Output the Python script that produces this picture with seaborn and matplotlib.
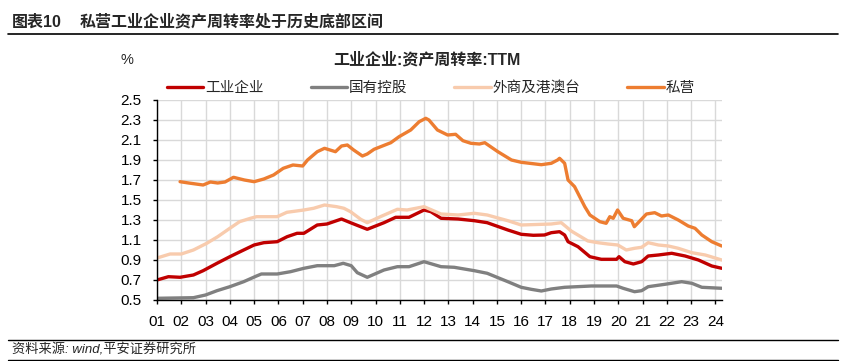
import numpy as np
import pandas as pd
import matplotlib
matplotlib.use('Agg')
import matplotlib.pyplot as plt
import seaborn as sns

# readings taken off the reference chart (year, value)
industry_t = [2001.0, 2001.47, 2001.95, 2002.5, 2002.9, 2003.47, 2004.0, 2004.57, 2005.0, 2005.4,
              2005.95, 2006.36, 2006.77, 2007.05, 2007.6, 2008.0, 2008.6, 2008.97, 2009.66, 2010.35,
              2010.83, 2011.38, 2012.0, 2012.28, 2012.7, 2013.4, 2014.07, 2014.6, 2015.45, 2016.0,
              2016.5, 2016.96, 2017.24, 2017.58, 2017.79, 2017.93, 2018.34, 2018.83, 2019.3, 2019.93,
              2020.03, 2020.27, 2020.62, 2020.96, 2021.23, 2021.65, 2022.2, 2022.75, 2023.3, 2023.85,
              2024.26]
industry_v = [0.70, 0.733, 0.727, 0.75, 0.793, 0.867, 0.933, 1.0, 1.05, 1.073,
              1.083, 1.133, 1.167, 1.167, 1.25, 1.26, 1.31, 1.273, 1.207, 1.273,
              1.327, 1.327, 1.40, 1.383, 1.317, 1.31, 1.293, 1.273, 1.20, 1.157,
              1.147, 1.15, 1.173, 1.183, 1.15, 1.083, 1.033, 0.933, 0.907, 0.907,
              0.933, 0.883, 0.86, 0.883, 0.94, 0.95, 0.967, 0.94, 0.90, 0.84,
              0.817]

soe_t = [2001.0, 2002.5, 2003.0, 2003.47, 2004.0, 2004.57, 2005.1, 2005.3, 2005.95, 2006.5,
         2007.05, 2007.6, 2008.3, 2008.67, 2009.0, 2009.25, 2009.66, 2010.35, 2010.9, 2011.38,
         2012.0, 2012.7, 2013.24, 2014.07, 2014.6, 2015.45, 2016.0, 2016.41, 2016.83, 2017.24,
         2017.79, 2018.89, 2019.93, 2020.2, 2020.67, 2020.96, 2021.23, 2021.92, 2022.61, 2023.03,
         2023.44, 2024.26]
soe_v = [0.517, 0.523, 0.55, 0.593, 0.633, 0.683, 0.74, 0.76, 0.76, 0.783,
         0.817, 0.843, 0.843, 0.867, 0.843, 0.773, 0.727, 0.80, 0.833, 0.833,
         0.883, 0.833, 0.827, 0.793, 0.767, 0.683, 0.627, 0.607, 0.59, 0.61,
         0.627, 0.64, 0.64, 0.617, 0.583, 0.593, 0.633, 0.657, 0.683, 0.667,
         0.627, 0.617]

foreign_t = [2001.0, 2001.54, 2002.0, 2002.5, 2003.05, 2003.5, 2004.0, 2004.4, 2004.85, 2005.1,
             2005.95, 2006.35, 2007.05, 2007.45, 2007.9, 2008.4, 2008.7, 2008.97, 2009.39, 2009.66,
             2010.2, 2010.9, 2011.3, 2012.0, 2012.7, 2013.4, 2014.07, 2014.6, 2015.45, 2016.0,
             2017.24, 2017.65, 2017.85, 2018.06, 2018.75, 2019.16, 2019.57, 2019.98, 2020.33, 2020.67,
             2020.96, 2021.23, 2021.65, 2022.06, 2022.47, 2023.03, 2023.58, 2024.26]
foreign_v = [0.92, 0.96, 0.96, 1.0, 1.067, 1.133, 1.217, 1.283, 1.317, 1.333,
             1.333, 1.377, 1.40, 1.417, 1.45, 1.433, 1.417, 1.383, 1.307, 1.273,
             1.333, 1.407, 1.40, 1.433, 1.36, 1.35, 1.367, 1.35, 1.293, 1.25,
             1.26, 1.273, 1.233, 1.19, 1.09, 1.073, 1.06, 1.05, 1.0, 1.017,
             1.027, 1.073, 1.05, 1.04, 1.017, 0.973, 0.95, 0.90]

private_t = [2001.95, 2002.3, 2002.9, 2003.2, 2003.5, 2003.8, 2004.15, 2004.6, 2005.0, 2005.4,
             2005.8, 2006.2, 2006.6, 2007.0, 2007.2, 2007.6, 2007.9, 2008.35, 2008.6, 2008.84,
             2009.1, 2009.46, 2009.66, 2009.94, 2010.63, 2010.97, 2011.45, 2011.8, 2012.07, 2012.2,
             2012.55, 2012.97, 2013.3, 2013.6, 2013.93, 2014.28, 2014.5, 2015.04, 2015.6, 2016.0,
             2016.83, 2017.24, 2017.5, 2017.58, 2017.79, 2017.93, 2018.2, 2018.62, 2018.83, 2019.24,
             2019.5, 2019.65, 2019.79, 2019.97, 2020.2, 2020.55, 2020.66, 2020.82, 2021.16, 2021.5,
             2021.78, 2022.06, 2022.47, 2022.88, 2023.16, 2023.44, 2023.85, 2024.26]
private_v = [1.683, 1.67, 1.65, 1.68, 1.67, 1.68, 1.727, 1.70, 1.683, 1.71,
             1.75, 1.817, 1.85, 1.84, 1.90, 1.983, 2.017, 1.983, 2.04, 2.05,
             2.0, 1.94, 1.96, 2.007, 2.073, 2.133, 2.2, 2.283, 2.317, 2.30,
             2.2, 2.15, 2.157, 2.093, 2.067, 2.06, 2.073, 1.983, 1.90, 1.877,
             1.853, 1.867, 1.90, 1.917, 1.867, 1.70, 1.633, 1.433, 1.35, 1.283,
             1.267, 1.333, 1.317, 1.40, 1.317, 1.293, 1.233, 1.273, 1.36, 1.373,
             1.34, 1.35, 1.30, 1.24, 1.217, 1.15, 1.083, 1.04]

series_names = ['工业企业', '国有控股', '外商及港澳台', '私营']
series_colors = ['#C00000', '#808080', '#F8CBAD', '#ED7D31']
year_ticks = list(range(2001, 2025))
year_labels = ['%02d' % (y % 100) for y in year_ticks]
value_ticks = [0.5, 0.7, 0.9, 1.1, 1.3, 1.5, 1.7, 1.9, 2.1, 2.3, 2.5]

sns.set_theme(style='white')
plt.rcParams['font.family'] = ['Liberation Sans', 'Noto Sans CJK SC']
plt.rcParams['axes.unicode_minus'] = False

fig = plt.figure(figsize=(8.45, 3.61), dpi=100)
ax = fig.add_axes([0.1858, 0.169, 0.6686, 0.554])

all_series = [(industry_t, industry_v), (soe_t, soe_v), (foreign_t, foreign_v), (private_t, private_v)]
for (t, v), name, color in zip(all_series, series_names, series_colors):
    df = pd.DataFrame({'t': t, 'v': v})
    sns.lineplot(data=df, x='t', y='v', color=color, linewidth=2.4, label=name, ax=ax,
                 sort=False, estimator=None)

ax.set_xlim(2001, 2024.27)
ax.set_ylim(0.5, 2.5)
ax.set_xticks(year_ticks)
ax.set_xticklabels(year_labels)
ax.set_yticks(value_ticks)
ax.set_yticklabels(['%.1f' % v for v in value_ticks])
ax.set_xlabel('')
ax.set_ylabel('')
ax.grid(True, color='#D9D9D9', linewidth=1.0)
ax.set_axisbelow(True)
for s in ['top', 'right']:
    ax.spines[s].set_visible(False)
for s in ['left', 'bottom']:
    ax.spines[s].set_color('black')
    ax.spines[s].set_linewidth(1.0)
ax.tick_params(axis='x', direction='out', length=3, width=1, color='black', pad=8,
               labelsize=11, labelcolor='black', bottom=True)
ax.tick_params(axis='y', direction='out', length=3, width=1, color='black', pad=8,
               labelsize=11, labelcolor='black', left=True)
ax.get_legend().remove()

handles, labels = ax.get_legend_handles_labels()
fig.legend(handles, labels, loc='center', bbox_to_anchor=(431 / 845, 1 - 88 / 361), ncol=4,
           frameon=False, fontsize=10.5, handlelength=2.5, handletextpad=0.15,
           columnspacing=3.2, borderaxespad=0)

# header, chart title, footer
fig.text(12 / 845, 1 - 22 / 361, '图表10', fontsize=11.5, fontweight='bold', va='center', ha='left')
fig.text(80 / 845, 1 - 22 / 361, '私营工业企业资产周转率处于历史底部区间', fontsize=11.5,
         fontweight='bold', va='center', ha='left')
fig.add_artist(plt.Line2D([8 / 845, 838 / 845], [1 - 34 / 361, 1 - 34 / 361], color='black', linewidth=1.2))
fig.text(427 / 845, 1 - 60 / 361, '工业企业:资产周转率:TTM', fontsize=11.5, fontweight='bold',
         va='center', ha='center')
fig.text(127 / 845, 1 - 60 / 361, '%', fontsize=10.5, va='center', ha='center')
fig.add_artist(plt.Line2D([8 / 845, 838 / 845], [1 - 340 / 361, 1 - 340 / 361], color='black', linewidth=1.0))
fig.add_artist(plt.Line2D([8 / 845, 838 / 845], [1 - 360 / 361, 1 - 360 / 361], color='black', linewidth=1.0))
fig.text(12 / 845, 1 - 350 / 361, '资料来源: wind,平安证券研究所', fontsize=9.5, style='italic',
         va='center', ha='left')

fig.savefig('out.png', dpi=100)
